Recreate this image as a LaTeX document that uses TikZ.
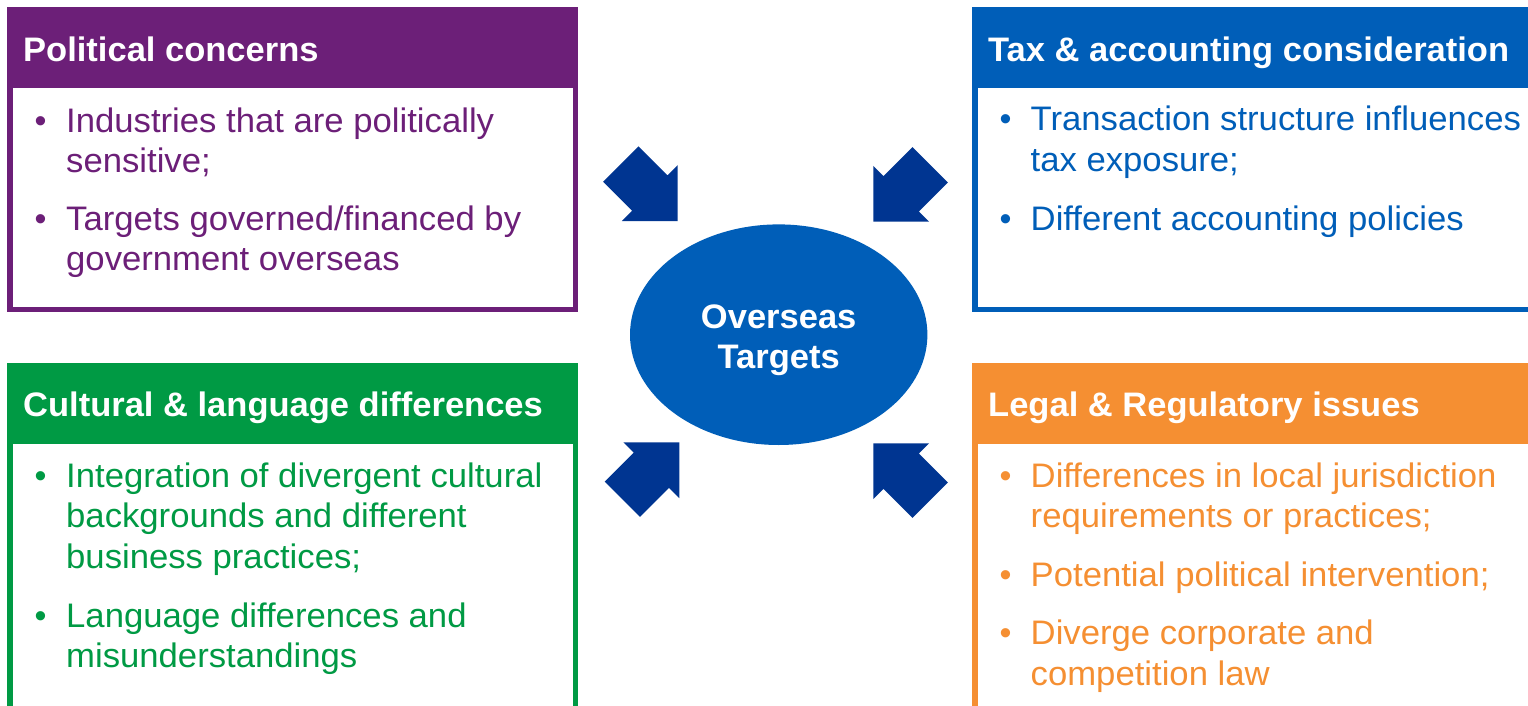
\documentclass[tikz,border=0pt]{standalone}
\usepackage{fontspec}
\setmainfont{Liberation Sans}
\newfontfamily\bodyfont[FakeStretch=1.02]{Liberation Sans}
\newfontfamily\titlefont[FakeStretch=1.015]{Liberation Sans}
\usetikzlibrary{shapes.geometric}

\definecolor{polpurple}{RGB}{108,31,120}
\definecolor{taxblue}{RGB}{0,94,184}
\definecolor{culgreen}{RGB}{0,154,68}
\definecolor{legorange}{RGB}{245,143,50}
\definecolor{hubblue}{RGB}{0,94,184}
\definecolor{arrowblue}{RGB}{0,53,145}

\begin{document}
\begin{tikzpicture}[x=1pt,y=-1pt,
  boxframe/.style={draw=#1, line width=5.5pt, fill=white, rectangle,
    inner sep=0pt, outer sep=0pt, anchor=north west},
  boxhead/.style={fill=#1, rectangle, inner sep=0pt, outer sep=0pt,
    anchor=north west},
  headtxt/.style={text=white, font=\titlefont\bfseries\fontsize{34}{40}\selectfont,
    anchor=base west, inner sep=0pt},
  itemtxt/.style={text=#1, font=\bodyfont\fontsize{34}{40}\selectfont,
    anchor=base west, inner sep=0pt},
  bul/.style={text=#1, font=\fontsize{34}{40}\selectfont,
    anchor=base, inner sep=0pt},
  hubtxt/.style={text=white, font=\titlefont\bfseries\fontsize{34}{40}\selectfont,
    anchor=base, inner sep=0pt},
  blockarrow/.pic={
    \fill[arrowblue] (0,0) -- (-39.5,39.5) -- (-39.5,25) -- (-80.5,25)
      -- (-80.5,-25) -- (-39.5,-25) -- (-39.5,-39.5) -- cycle;}
]
\clip (0,0) rectangle (1528,706);
\fill[white] (0,0) rectangle (1528,706);

% ---------- Political concerns ----------
\node[boxframe=polpurple, minimum width=565.5pt, minimum height=299.5pt] (polbox) at (10,10) {};
\node[boxhead=polpurple, minimum width=571pt, minimum height=81pt] (polhead) at (7.3,7.3) {};
\node[headtxt] (poltitle) at (23,61.5) {Political concerns};
\node[bul=polpurple] (polb1) at (40.7,132) {•};
\node[itemtxt=polpurple] (pol1a) at (66,132) {Industries that are politically};
\node[itemtxt=polpurple] (pol1b) at (66,172) {sensitive;};
\node[bul=polpurple] (polb2) at (40.7,230) {•};
\node[itemtxt=polpurple] (pol2a) at (66,230) {Targets governed/financed by};
\node[itemtxt=polpurple] (pol2b) at (66,270) {government overseas};

% ---------- Tax & accounting ----------
\node[boxframe=taxblue, minimum width=600pt, minimum height=299.5pt] (taxbox) at (975,10) {};
\node[boxhead=taxblue, minimum width=600pt, minimum height=81pt] (taxhead) at (972.3,7.3) {};
\node[headtxt] (taxtitle) at (988,61.5) {Tax \& accounting consideration};
\node[bul=taxblue] (taxb1) at (1005.5,131) {•};
\node[itemtxt=taxblue] (tax1a) at (1030.5,131) {Transaction structure influences};
\node[itemtxt=taxblue] (tax1b) at (1030.5,171) {tax exposure;};
\node[bul=taxblue] (taxb2) at (1005.5,230) {•};
\node[itemtxt=taxblue] (tax2a) at (1030.5,230) {Different accounting policies};

% ---------- Cultural & language ----------
\node[boxframe=culgreen, minimum width=565.5pt, minimum height=400pt] (culbox) at (10,365.5) {};
\node[boxhead=culgreen, minimum width=571pt, minimum height=81.5pt] (culhead) at (7.3,362.7) {};
\node[headtxt] (cultitle) at (23,416) {Cultural \& language differences};
\node[bul=culgreen] (culb1) at (40.7,487) {•};
\node[itemtxt=culgreen] (cul1a) at (66,487) {Integration of divergent cultural};
\node[itemtxt=culgreen] (cul1b) at (66,527.5) {backgrounds and different};
\node[itemtxt=culgreen] (cul1c) at (66,568) {business practices;};
\node[bul=culgreen] (culb2) at (40.7,627) {•};
\node[itemtxt=culgreen] (cul2a) at (66,627) {Language differences and};
\node[itemtxt=culgreen] (cul2b) at (66,667) {misunderstandings};

% ---------- Legal & regulatory ----------
\node[boxframe=legorange, minimum width=600pt, minimum height=400pt] (legbox) at (975,365.5) {};
\node[boxhead=legorange, minimum width=600pt, minimum height=81.5pt] (leghead) at (972.3,362.7) {};
\node[headtxt] (legtitle) at (988,416) {Legal \& Regulatory issues};
\node[bul=legorange] (legb1) at (1005.5,487) {•};
\node[itemtxt=legorange] (leg1a) at (1030.5,487) {Differences in local jurisdiction};
\node[itemtxt=legorange] (leg1b) at (1030.5,527) {requirements or practices;};
\node[bul=legorange] (legb2) at (1005.5,586) {•};
\node[itemtxt=legorange] (leg2a) at (1030.5,586) {Potential political intervention;};
\node[bul=legorange] (legb3) at (1005.5,644) {•};
\node[itemtxt=legorange] (leg3a) at (1030.5,644) {Diverge corporate and};
\node[itemtxt=legorange] (leg3b) at (1030.5,685) {competition law};

% ---------- Central hub ----------
\node[ellipse, fill=hubblue, inner sep=0pt, minimum width=297.4pt,
  minimum height=220.6pt] (hub) at (778.7,334.7) {};
\node[hubtxt] (hubl1) at (778.7,328.3) {Overseas};
\node[hubtxt] (hubl2) at (778.7,368.3) {Targets};

% ---------- Arrows pointing at the hub ----------
\coordinate (tipTL) at (677.7,221);
\coordinate (tipTR) at (873.3,221.7);
\coordinate (tipBL) at (679.3,442.3);
\coordinate (tipBR) at (873.3,443.3);
\pic[rotate=-45]  (arTL) at (tipTL) {blockarrow};
\pic[rotate=-135] (arTR) at (tipTR) {blockarrow};
\pic[rotate=45]   (arBL) at (tipBL) {blockarrow};
\pic[rotate=135]  (arBR) at (tipBR) {blockarrow};
\end{tikzpicture}
\end{document}
